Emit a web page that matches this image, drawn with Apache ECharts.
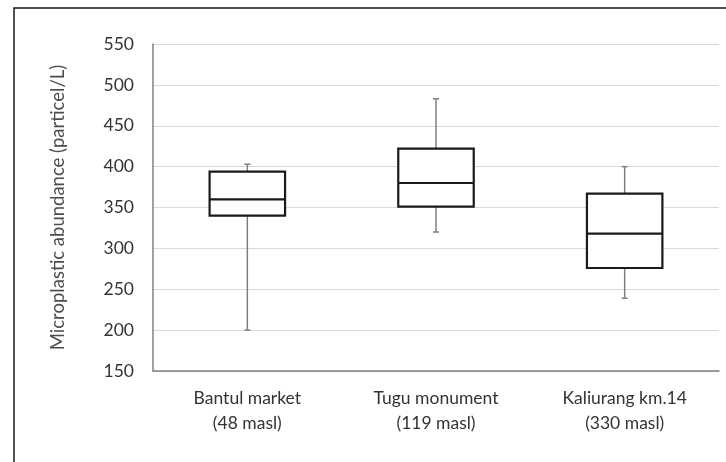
<!DOCTYPE html>
<html>
<head>
<meta charset="utf-8">
<script src="https://cdn.jsdelivr.net/npm/echarts@6/dist/echarts.min.js"></script>
<style>
html,body{margin:0;padding:0;background:#fff;}
#chart{width:726px;height:462px;}
</style>
</head>
<body>
<div id="chart"></div>
<script>
const categories = ['Bantul market\n(48 masl)', 'Tugu monument\n(119 masl)', 'Kaliurang km.14\n(330 masl)'];
const whiskerMin = [200, 320, 239];
const quartile1 = [340, 351, 276];
const medians = [360, 380, 318];
const quartile3 = [394, 422, 367];
const whiskerMax = [403, 483, 400];
const yTicks = [150, 200, 250, 300, 350, 400, 450, 500, 550];
const yTitle = 'Microplastic abundance (particel/L)';

const FONT = 'Lato';
const boxData = categories.map((c, i) => [i, whiskerMin[i], quartile1[i], medians[i], quartile3[i], whiskerMax[i]]);

const chart = echarts.init(document.getElementById('chart'), null, {renderer: 'canvas'});
chart.setOption({
  backgroundColor: '#fff',
  animation: false,
  graphic: [{
    type: 'rect',
    shape: {x: 14, y: 8, width: 760, height: 500},
    style: {fill: 'none', stroke: '#1a1a1a', lineWidth: 1.5},
    z: 0
  }],
  grid: {left: 153, right: 7, top: 44, bottom: 91},
  xAxis: {
    type: 'category',
    data: categories,
    boundaryGap: true,
    axisLine: {show: true, lineStyle: {color: '#7f7f7f', width: 1.5}},
    axisTick: {show: false},
    axisLabel: {color: '#333333', fontFamily: FONT, fontSize: 17.5, lineHeight: 25, margin: 15}
  },
  yAxis: {
    type: 'value',
    min: yTicks[0],
    max: yTicks[yTicks.length - 1],
    interval: yTicks[1] - yTicks[0],
    name: yTitle,
    nameLocation: 'middle',
    nameRotate: 90,
    nameGap: 85,
    nameTextStyle: {color: '#4d4d4d', fontFamily: FONT, fontSize: 18.5},
    axisLine: {show: true, lineStyle: {color: '#7f7f7f', width: 1.5}},
    axisTick: {show: false},
    axisLabel: {color: '#333333', fontFamily: FONT, fontSize: 17.5, margin: 19},
    splitLine: {show: true, lineStyle: {color: '#d9d9d9', width: 1.2}}
  },
  series: [{
    type: 'custom',
    data: boxData,
    renderItem: function (params, api) {
      const x = api.value(0);
      const pMin = api.coord([x, api.value(1)]);
      const pQ1 = api.coord([x, api.value(2)]);
      const pMed = api.coord([x, api.value(3)]);
      const pQ3 = api.coord([x, api.value(4)]);
      const pMax = api.coord([x, api.value(5)]);
      const bw = api.size([1, 0])[0] * 0.4;
      const cx = pMed[0];
      const cap = 3;
      const wStyle = {stroke: '#7f7f7f', lineWidth: 1.5, fill: 'none'};
      return {
        type: 'group',
        children: [
          {type: 'line', shape: {x1: cx, y1: pQ3[1], x2: cx, y2: pMax[1]}, style: wStyle},
          {type: 'line', shape: {x1: cx - cap, y1: pMax[1], x2: cx + cap, y2: pMax[1]}, style: wStyle},
          {type: 'line', shape: {x1: cx, y1: pQ1[1], x2: cx, y2: pMin[1]}, style: wStyle},
          {type: 'line', shape: {x1: cx - cap, y1: pMin[1], x2: cx + cap, y2: pMin[1]}, style: wStyle},
          {type: 'rect', shape: {x: cx - bw / 2, y: pQ3[1], width: bw, height: pQ1[1] - pQ3[1]},
            style: {fill: '#fff', stroke: '#1a1a1a', lineWidth: 2.2}},
          {type: 'line', shape: {x1: cx - bw / 2, y1: pMed[1], x2: cx + bw / 2, y2: pMed[1]},
            style: {stroke: '#1a1a1a', lineWidth: 2.2}}
        ]
      };
    }
  }]
});
</script>
</body>
</html>
